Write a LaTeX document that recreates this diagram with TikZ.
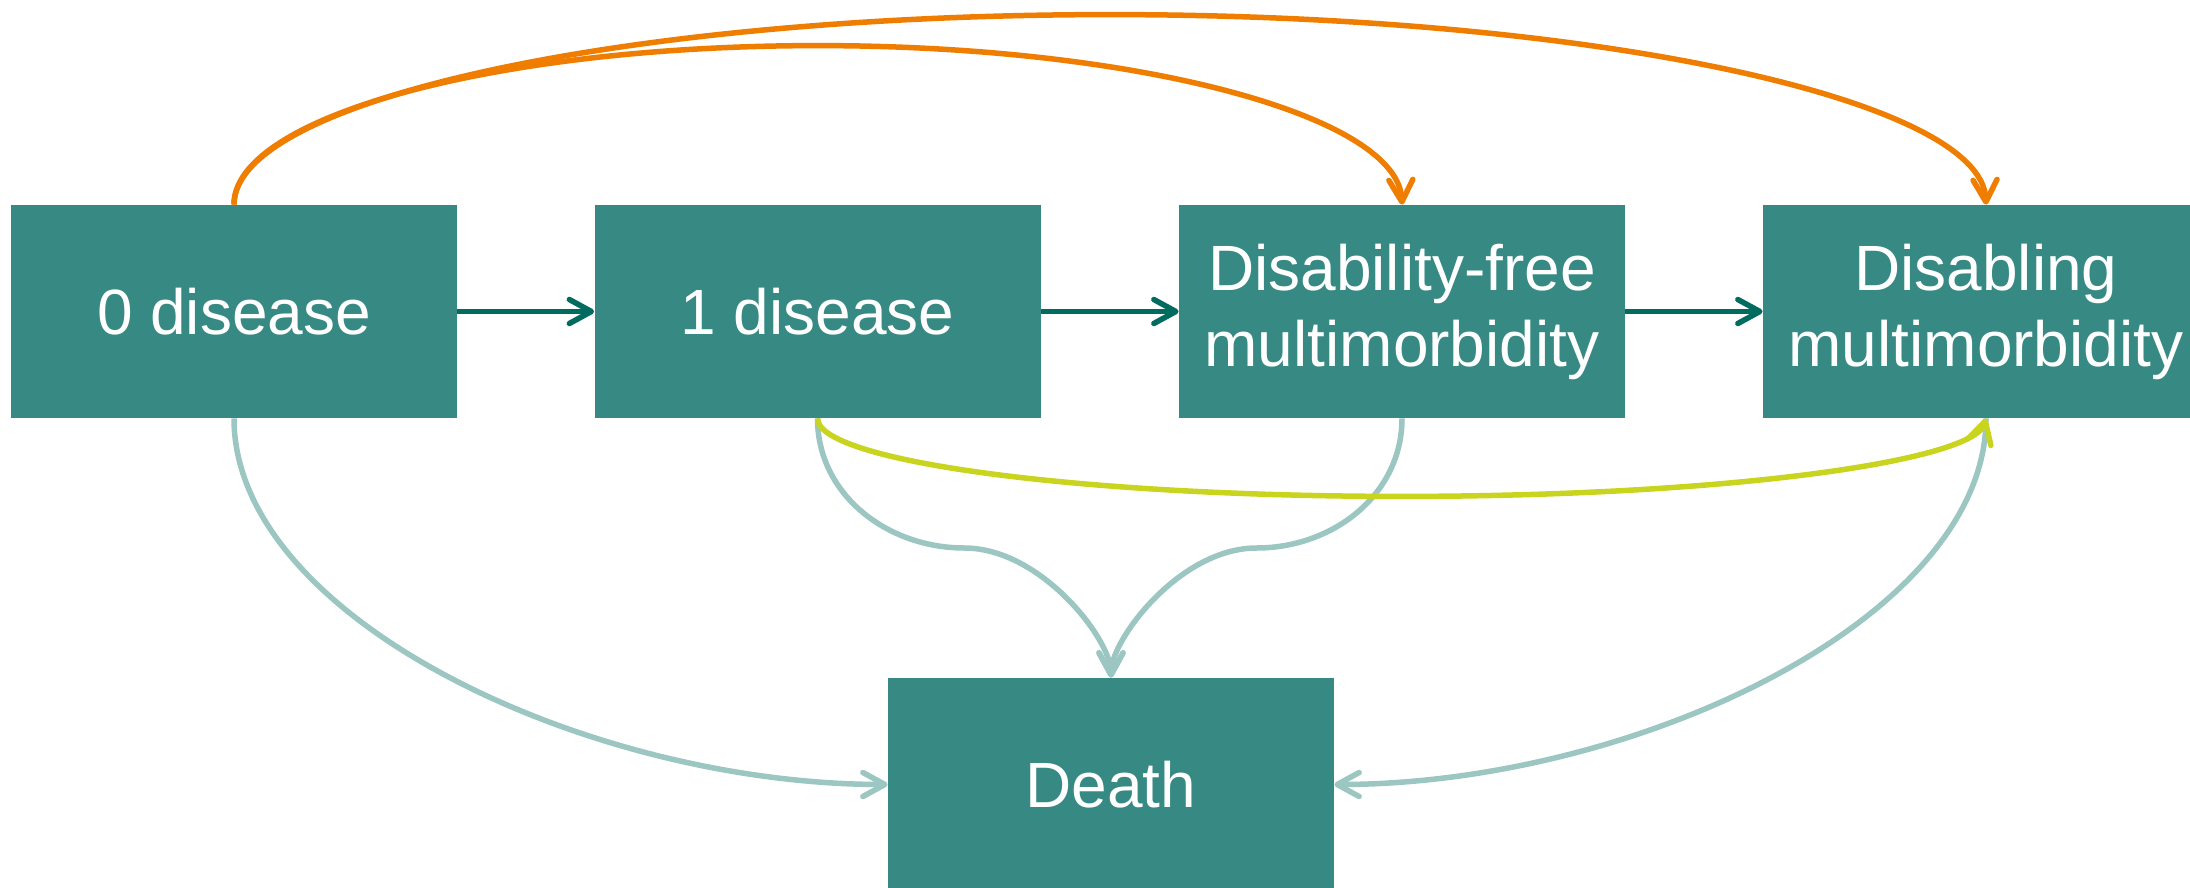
\documentclass[tikz,border=0pt]{standalone}
\usepackage{fontspec}
\setmainfont{Liberation Sans}
\usetikzlibrary{arrows.meta,calc}
\definecolor{boxteal}{HTML}{368A83}
\definecolor{darkteal}{HTML}{006B5F}
\definecolor{lightteal}{HTML}{9BC6C2}
\definecolor{arrorange}{HTML}{EE7D00}
\definecolor{arryellow}{HTML}{C8D41E}
\begin{document}
\begin{tikzpicture}[x=0.5pt,y=-0.5pt,
  statebox/.style={rectangle, fill=boxteal, text=white, minimum width=223pt,
    minimum height=106.5pt, inner sep=0pt, align=center,
    font=\fontsize{32}{38}\selectfont},
  barb/.style={-{Straight Barb[length=11pt,width=12pt,round]}},
  darkarrow/.style={barb, draw=darkteal, line width=2.75pt},
  lightarrow/.style={barb, draw=lightteal, line width=2.75pt},
  orangearrow/.style={barb, draw=arrorange, line width=2.75pt},
  yellowarrow/.style={barb, draw=arryellow, line width=2.75pt}]
\useasboundingbox (0,0) rectangle (2190,888);
\clip (0,0) rectangle (2190,888);

\node[statebox] (b0) at (234,311.5) {0 disease};
\node[statebox] (b1) at (817.5,311.5) {1 disease};
\node[statebox] (b2) at (1402,311.5) {Disability-free\\multimorbidity};
\node[statebox] (b3) at (1986,311.5) {Disabling\\multimorbidity};
\node[statebox] (death) at (1111,784.5) {Death};

% horizontal transitions
\draw[darkarrow] (b0.east) -- (b1.west);
\draw[darkarrow] (b1.east) -- (b2.west);
\draw[darkarrow] (b2.east) -- (b3.west);

% orange arcs over the top
\coordinate (o1) at ($(b0.north)!0.5!(b2.north)+(0,-159)$);
\coordinate (o2) at ($(b0.north)!0.5!(b3.north)+(0,-190)$);
\draw[orangearrow] (b0.north) .. controls +(0,-88) and +(-322,0) .. (o1)
  .. controls +(322,0) and +(-4,-88) .. (b2.north);
\draw[orangearrow] (b0.north) .. controls +(0,-105) and +(-484,0) .. (o2)
  .. controls +(484,0) and +(-4,-105) .. (b3.north);

% transitions to death
\coordinate (m1) at ($(b1.south)!0.5!(death.north)$);
\coordinate (m2) at ($(b2.south)!0.5!(death.north)$);
\draw[lightarrow] (b0.south) .. controls +(0,200) and +(-300,0) .. (death.west);
\draw[lightarrow] (b3.south) .. controls +(0,200) and +(300,0) .. (death.east);
\draw[lightarrow] (b1.south) to[out=-90,in=180] (m1)
  to[out=0,in=90,in looseness=0.5] (death.north);
\draw[lightarrow] (b2.south) to[out=-90,in=0] (m2)
  to[out=180,in=90,in looseness=0.5] (death.north);

% yellow arc below
\coordinate (y1) at ($(b1.south)!0.5!(b3.south)+(0,78)$);
\draw[yellowarrow] (b1.south) .. controls +(0,43) and +(-323,0) .. (y1)
  .. controls +(323,0) and +(-12,43) .. (b3.south);
\end{tikzpicture}
\end{document}
